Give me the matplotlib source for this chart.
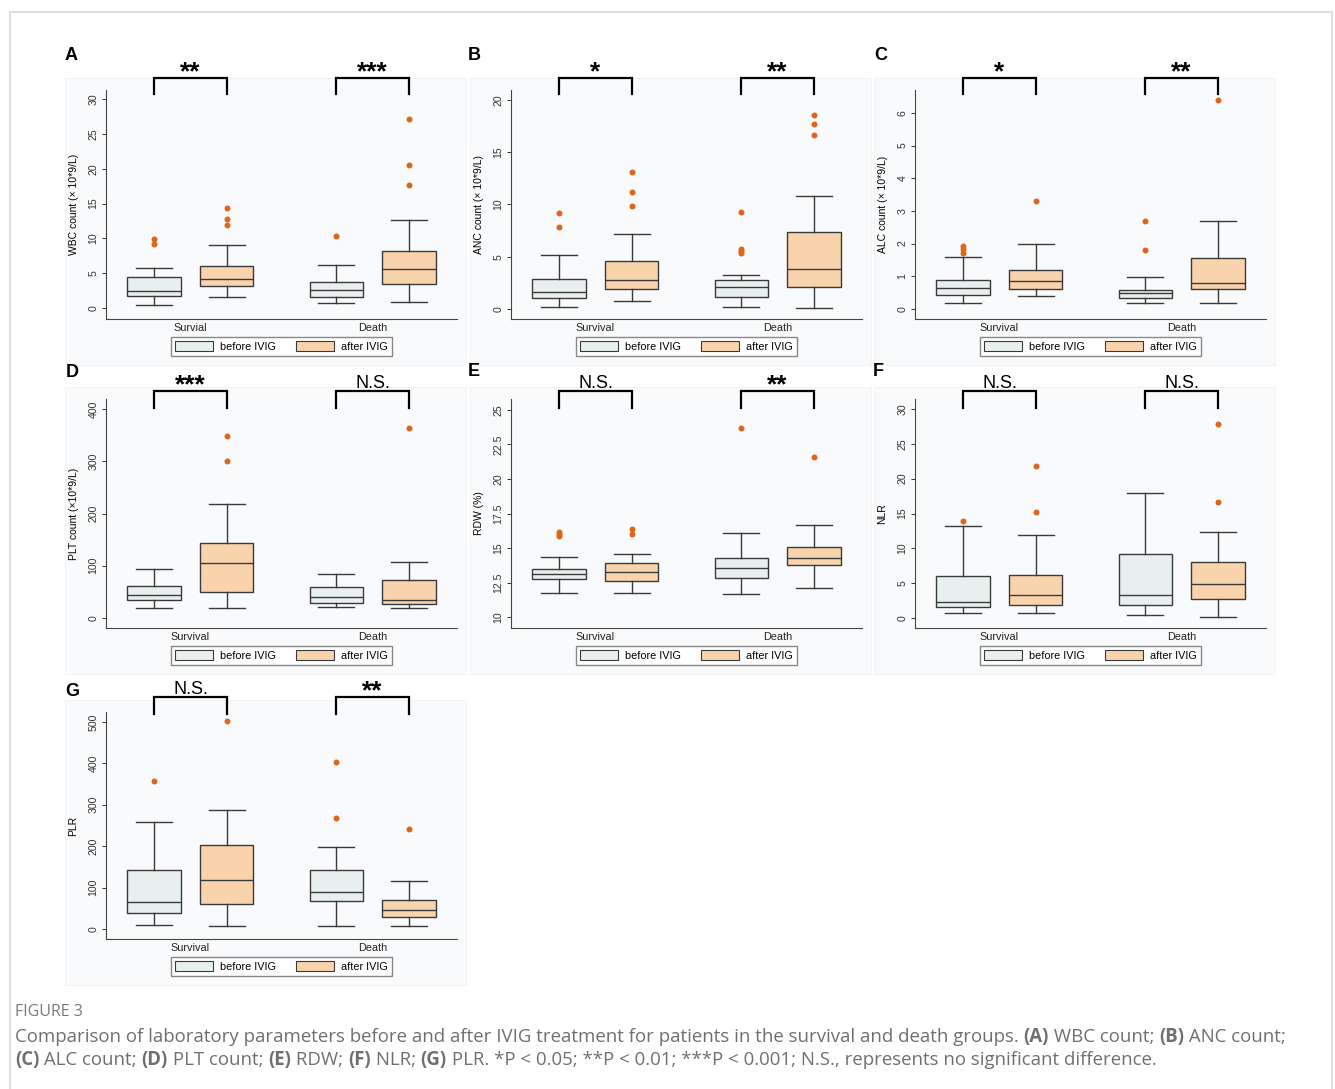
import matplotlib
matplotlib.use('Agg')
import matplotlib.pyplot as plt
import matplotlib.transforms as mtransforms
from matplotlib.patches import Rectangle, Patch
from matplotlib.ticker import FuncFormatter

plt.rcParams['font.family'] = ['Liberation Sans', 'DejaVu Sans']

W, H, DPI = 1335, 1089, 100

# ------------------------------------------------------------------------
# Data: box = [whisker low, Q1, median, Q3, whisker high]
# order of boxes: survival-before, survival-after, death-before, death-after
# ------------------------------------------------------------------------
groups = ['Survival', 'Death']
series = ['before IVIG', 'after IVIG']

wbc_box = [[0.43, 1.67, 2.40, 4.45, 5.70], [1.63, 3.16, 4.16, 6.03, 9.00],
           [0.72, 1.58, 2.63, 3.68, 6.22], [0.81, 3.44, 5.55, 8.18, 12.6]]
wbc_out = [[9.2, 9.9], [11.9, 12.8, 14.4], [10.3], [17.6, 20.6, 27.2]]

anc_box = [[0.19, 1.05, 1.63, 2.90, 5.18], [0.77, 1.88, 2.75, 4.63, 7.22],
           [0.19, 1.15, 2.10, 2.75, 3.26], [0.10, 2.10, 3.83, 7.35, 10.8]]
anc_out = [[7.8, 9.2], [9.9, 11.2, 13.1], [5.4, 5.55, 5.7, 9.3], [16.7, 17.7, 18.6]]

alc_box = [[0.19, 0.41, 0.65, 0.89, 1.59], [0.39, 0.62, 0.86, 1.18, 2.00],
           [0.19, 0.32, 0.49, 0.59, 0.99], [0.19, 0.61, 0.80, 1.57, 2.69]]
alc_out = [[1.71, 1.82, 1.92], [3.29], [1.80, 2.69], [6.39]]

plt_box = [[19.8, 34.4, 44.7, 61.2, 93.1], [19.8, 49.8, 105.3, 144.2, 217.5],
           [21.0, 29.3, 39.6, 59.3, 83.6], [19.8, 26.8, 35.1, 72.1, 106.5]]
plt_out = [[], [299.8, 347.7], [], [363.6]]

rdw_box = [[11.75, 12.74, 13.13, 13.51, 14.38], [11.75, 12.64, 13.27, 13.89, 14.59],
           [11.66, 12.81, 13.58, 14.25, 16.08], [12.07, 13.77, 14.30, 15.05, 16.68]]
rdw_out = [[15.84, 15.99, 16.13], [15.99, 16.37], [23.7], [21.59]]

nlr_box = [[0.67, 1.58, 2.25, 6.08, 13.16], [0.67, 1.87, 3.30, 6.17, 11.96],
           [0.43, 1.87, 3.25, 9.23, 17.99], [0.14, 2.68, 4.88, 7.99, 12.34]]
nlr_out = [[13.97], [15.2, 21.8], [], [16.65, 27.8]]

plr_box = [[10.4, 39.3, 65.0, 143.7, 258.4], [8.0, 61.0, 118.8, 203.9, 288.0],
           [7.2, 67.4, 89.1, 142.9, 199.0], [7.2, 28.9, 46.5, 70.6, 115.6]]
plr_out = [[358.0], [502.4], [268.9, 402.9], [242.4]]

# significance labels for survival / death
wbc_sig = ['**', '***']
anc_sig = ['*', '**']
alc_sig = ['*', '**']
plt_sig = ['***', 'N.S.']
rdw_sig = ['N.S.', '**']
nlr_sig = ['N.S.', 'N.S.']
plr_sig = ['N.S.', '**']

y_labels = ['WBC count (\u00d7 10*9/L)', 'ANC count (\u00d7 10*9/L)',
            'ALC count (\u00d7 10*9/L)', 'PLT count (\u00d710*9/L)',
            'RDW (%)', 'NLR', 'PLR']
panel_letters = ['A', 'B', 'C', 'D', 'E', 'F', 'G']
x_names = [['Survial', 'Death'], groups, groups, groups, groups, groups, groups]

# ------------------------------------------------------------------------
# Styles / layout (pixels)
# ------------------------------------------------------------------------
C_BEFORE = '#e8f0ef'
C_AFTER = '#f9d3ac'
C_EDGE = '#3a3a3a'
C_OUT = '#e0641a'
C_REGION = '#f9fafb'

positions = [0, 1, 2.5, 3.5]
xlim = (-0.66, 4.16)

col_left = [106, 511, 915]
ax_w = 351
rows = [(90, 319), (399, 628), (712, 939)]          # axes top, bottom
brk = [(78, 94), (391, 408), (697, 714)]             # bracket top, leg end
grid_pos = [(0, 0), (0, 1), (0, 2), (1, 0), (1, 1), (1, 2), (2, 0)]

ylims = [(-1.58, 31.3), (-0.96, 20.96), (-0.31, 6.70), (-19.1, 419.1),
         (9.21, 25.79), (-1.43, 31.43), (-24.2, 524.2)]
ysteps = [5, 5, 1, 100, 2.5, 5, 100]
yfirst = [0, 0, 0, 0, 10, 0, 0]
ylast = [30, 20, 6, 400, 25, 30, 500]

letter_xy = [(71, 55), (474, 55), (881, 55), (72, 373), (474, 372), (878, 372), (72, 692)]

boxes = [wbc_box, anc_box, alc_box, plt_box, rdw_box, nlr_box, plr_box]
outs = [wbc_out, anc_out, alc_out, plt_out, rdw_out, nlr_out, plr_out]
sigs = [wbc_sig, anc_sig, alc_sig, plt_sig, rdw_sig, nlr_sig, plr_sig]


def fx(px):
    return px / W


def fy(py):
    return 1 - py / H


def tick_fmt(v, _):
    return f'{v:g}'


fig = plt.figure(figsize=(W / DPI, H / DPI), dpi=DPI)
fig.patch.set_facecolor('white')

# outer frame of the figure block
fig.patches.append(Rectangle((fx(10), fy(1100)), fx(1322), 1 - fy(1100) - (12 / H),
                             transform=fig.transFigure, fill=False,
                             edgecolor='#d8d8d8', lw=1.2, zorder=-10))

for i in range(7):
    r, c = grid_pos[i]
    top, bot = rows[r]
    left = col_left[c]

    # light graph region behind each panel
    fig.patches.append(Rectangle((fx(left - 41), fy(bot + 46)), fx(ax_w + 50),
                                 (bot + 46 - (top - 12)) / H,
                                 transform=fig.transFigure, facecolor=C_REGION,
                                 edgecolor='#f0f2f4', lw=0.6, zorder=-10))

    ax = fig.add_axes([fx(left), fy(bot), fx(ax_w), (bot - top) / H])
    ax.set_facecolor(C_REGION)

    stats = []
    for b, o in zip(boxes[i], outs[i]):
        stats.append(dict(whislo=b[0], q1=b[1], med=b[2], q3=b[3], whishi=b[4], fliers=o))

    bp = ax.bxp(stats, positions=positions, widths=0.73, capwidths=0.49,
                patch_artist=True, showfliers=True,
                boxprops=dict(edgecolor=C_EDGE, lw=1.0),
                whiskerprops=dict(color=C_EDGE, lw=1.0),
                capprops=dict(color=C_EDGE, lw=1.0),
                medianprops=dict(color=C_EDGE, lw=1.0),
                flierprops=dict(marker='o', markerfacecolor=C_OUT,
                                markeredgecolor=C_OUT, markersize=4.3, mew=0))
    for k, patch in enumerate(bp['boxes']):
        patch.set_facecolor(C_BEFORE if k % 2 == 0 else C_AFTER)

    ax.set_xlim(*xlim)
    ax.set_ylim(*ylims[i])
    ax.set_xticks([0.5, 3.0])
    ax.set_xticklabels(x_names[i], fontsize=7.8)
    ax.tick_params(axis='x', length=0, pad=3, colors='#222222')

    yt = []
    v = yfirst[i]
    while v <= ylast[i] + 1e-9:
        yt.append(v)
        v += ysteps[i]
    ax.set_yticks(yt)
    ax.yaxis.set_major_formatter(FuncFormatter(tick_fmt))
    ax.tick_params(axis='y', length=3, width=0.7, pad=2.5, labelsize=7.6,
                   labelrotation=90, colors='#333333')
    for lab in ax.get_yticklabels():
        lab.set_va('center')
    ax.set_ylabel(y_labels[i], fontsize=7.5)
    ax.yaxis.set_label_coords(-0.078, 0.5)

    for s in ['top', 'right']:
        ax.spines[s].set_visible(False)
    for s in ['left', 'bottom']:
        ax.spines[s].set_color('#444444')
        ax.spines[s].set_linewidth(0.8)

    ax.legend([Patch(facecolor=C_BEFORE, edgecolor=C_EDGE, lw=0.8),
               Patch(facecolor=C_AFTER, edgecolor=C_EDGE, lw=0.8)],
              series, ncol=2, loc='upper center',
              bbox_to_anchor=(0.5, -18 / (bot - top)), borderaxespad=0,
              fontsize=7.8, handlelength=3.5, handleheight=1.0,
              handletextpad=0.6, columnspacing=1.9, borderpad=0.4,
              frameon=True, fancybox=False, edgecolor='#888888',
              framealpha=1)

    # significance brackets above the plot
    trans = mtransforms.blended_transform_factory(ax.transData, fig.transFigure)
    bt, bl = brk[r]
    for g in range(2):
        x0, x1 = positions[2 * g], positions[2 * g + 1]
        ax.plot([x0, x0, x1, x1], [fy(bl), fy(bt), fy(bt), fy(bl)],
                transform=trans, color='black', lw=1.6, clip_on=False,
                solid_joinstyle='miter', zorder=5)
        lab = sigs[i][g]
        if lab == 'N.S.':
            ax.text((x0 + x1) / 2, fy(bt - 3), lab, transform=trans,
                    ha='center', va='baseline', fontsize=13)
        else:
            ax.text((x0 + x1) / 2, fy(bt + 1), lab, transform=trans,
                    ha='center', va='baseline', fontsize=19, fontweight='bold')

    lx, ly = letter_xy[i]
    fig.text(fx(lx), fy(ly), panel_letters[i], ha='center', va='center',
             fontsize=13, fontweight='bold')

# ------------------------------------------------------------------------
# Caption
# ------------------------------------------------------------------------
cap_color = '#6f6f6f'
cap_font = ['Open Sans', 'DejaVu Sans']
fig.text(fx(15), fy(1012), 'FIGURE 3', ha='left', va='center', fontsize=11.5,
         color='#7a7a7a', family=cap_font, fontweight='normal')

line1 = [('Comparison of laboratory parameters before and after IVIG treatment for patients '
          'in the survival and death groups. ', 'normal'),
         ('(A)', 'bold'), (' WBC count; ', 'normal'),
         ('(B)', 'bold'), (' ANC count;', 'normal')]
line2 = [('(C)', 'bold'), (' ALC count; ', 'normal'), ('(D)', 'bold'), (' PLT count; ', 'normal'),
         ('(E)', 'bold'), (' RDW; ', 'normal'), ('(F)', 'bold'), (' NLR; ', 'normal'),
         ('(G)', 'bold'), (' PLR. *P < 0.05; **P < 0.01; ***P < 0.001; N.S., represents no '
                           'significant difference.', 'normal')]

renderer = fig.canvas.get_renderer()


def put_runs(runs, y_px, size):
    x = 15
    made = []
    for txt, wt in runs:
        t = fig.text(fx(x), fy(y_px), txt, ha='left', va='center', fontsize=size,
                     color=cap_color, family=cap_font, fontweight=wt)
        bb = t.get_window_extent(renderer)
        x += bb.width
        made.append(t)
    return x, made


# fit the first caption line to the width it has in the source figure
end, made = put_runs(line1, 1037, 11.2)
cap_size = 11.2 * (1283 - 15) / (end - 15)
for t in made:
    t.remove()
put_runs(line1, 1037, cap_size)
put_runs(line2, 1060, cap_size)

fig.savefig('out.png', dpi=DPI)
